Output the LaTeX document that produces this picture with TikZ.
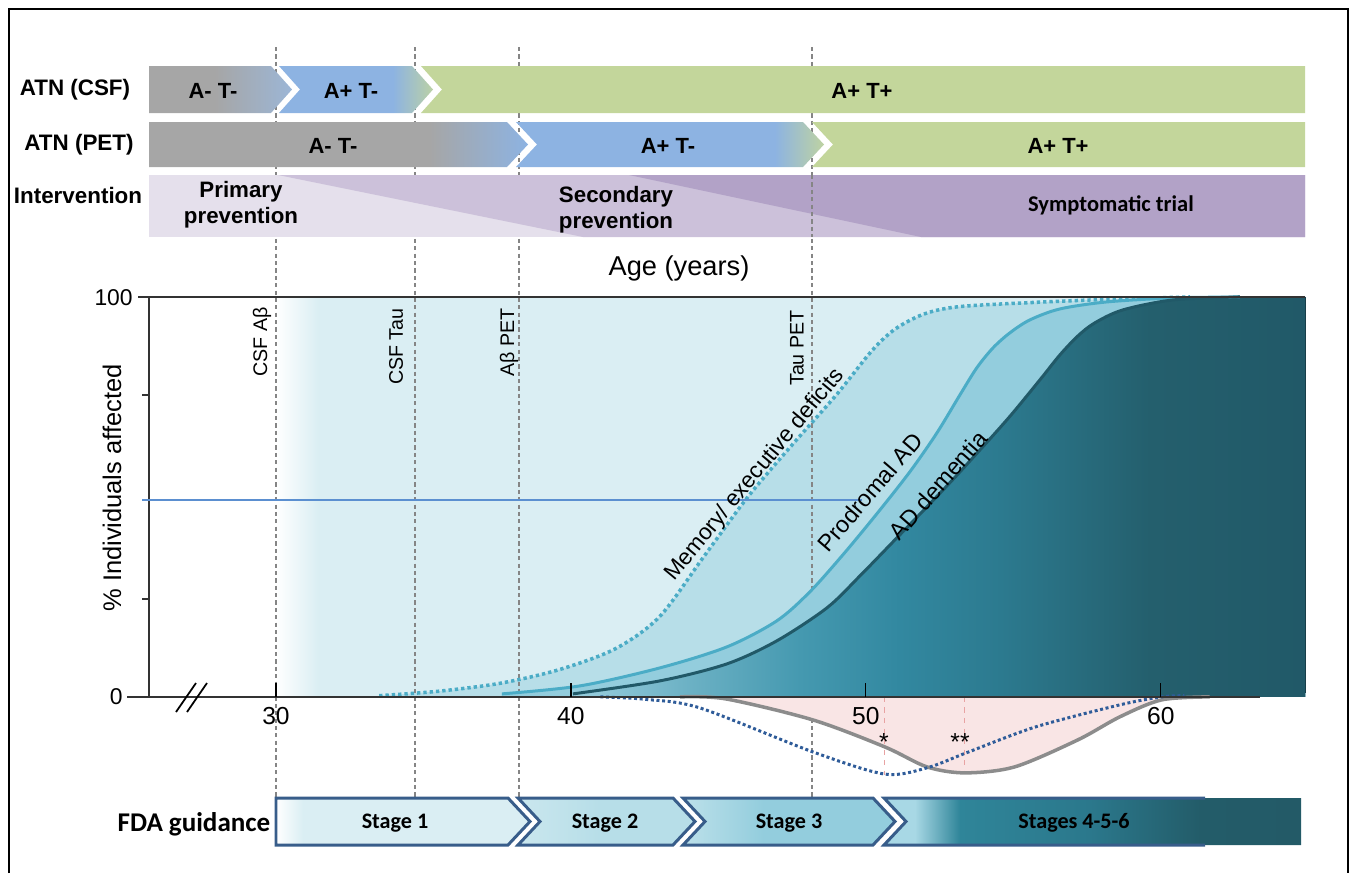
\documentclass[tikz,border=0pt]{standalone}
\usepackage{fontspec}
\setmainfont{Liberation Sans}
\newfontfamily\calfont{Carlito}
\usetikzlibrary{math}

\definecolor{atngray}{HTML}{A6A6A6}
\definecolor{atnblue}{HTML}{8DB3E2}
\definecolor{atngreen}{HTML}{C3D69B}
\definecolor{atnfade}{HTML}{9CB6D6}
\definecolor{intlight}{HTML}{E5E0EC}
\definecolor{intmid}{HTML}{CCC1DA}
\definecolor{intdark}{HTML}{B2A2C7}
\definecolor{aquaA}{HTML}{DAEEF3}
\definecolor{aquaB}{HTML}{B7DEE8}
\definecolor{aquaC}{HTML}{93CDDD}
\definecolor{aqualine}{HTML}{4BACC6}
\definecolor{aquadeep}{HTML}{215968}
\definecolor{deepA}{HTML}{9ACFDE}
\definecolor{deepB}{HTML}{6FB3C6}
\definecolor{deepC}{HTML}{4599B0}
\definecolor{deepD}{HTML}{3288A0}
\definecolor{deepE}{HTML}{2C7A8F}
\definecolor{deepF}{HTML}{245F6D}
\definecolor{stageA}{HTML}{A8D8E5}
\definecolor{stageB}{HTML}{2F8599}
\definecolor{stageC}{HTML}{2B788C}
\definecolor{stageD}{HTML}{235C69}
\definecolor{stageE}{HTML}{235A67}
\definecolor{fdaline}{HTML}{385D8A}
\definecolor{pinkfill}{HTML}{F9E5E5}
\definecolor{dipgray}{HTML}{8C8C8C}
\definecolor{dipblue}{HTML}{2F5C99}
\definecolor{markgray}{HTML}{858585}
\definecolor{halfblue}{HTML}{5B8FD0}
\definecolor{starred}{HTML}{E8A3A3}

% fades (25bp = left edge of the path, 75bp = right edge)
\pgfdeclarehorizontalshading{csfgray}{100bp}{color(0bp)=(atngray); color(48bp)=(atngray); color(75bp)=(atnfade); color(100bp)=(atnfade)}
\pgfdeclarehorizontalshading{csfblue}{100bp}{color(0bp)=(atnblue); color(62bp)=(atnblue); color(75bp)=(atngreen!85!atnblue); color(100bp)=(atngreen!85!atnblue)}
\pgfdeclarehorizontalshading{petgray}{100bp}{color(0bp)=(atngray); color(62bp)=(atngray); color(75bp)=(atnblue); color(100bp)=(atnblue)}
\pgfdeclarehorizontalshading{petblue}{100bp}{color(0bp)=(atnblue); color(67bp)=(atnblue); color(75bp)=(atngreen!90!atnblue); color(100bp)=(atngreen!90!atnblue)}
\pgfdeclarehorizontalshading{stagetwo}{100bp}{color(0bp)=(aquaA!55!aquaB); color(25bp)=(aquaA!55!aquaB); color(48bp)=(aquaB); color(100bp)=(aquaB)}
\pgfdeclarehorizontalshading{stagethree}{100bp}{color(0bp)=(aquaB!85!aquaA); color(25bp)=(aquaB!85!aquaA); color(44bp)=(aquaC); color(100bp)=(aquaC)}
\pgfdeclarehorizontalshading{stagefour}{100bp}{color(0bp)=(stageA); color(28.7bp)=(stageA); color(34.1bp)=(stageB); color(49.7bp)=(stageC); color(62.9bp)=(stageD); color(75bp)=(stageE); color(100bp)=(stageE)}
\pgfdeclarehorizontalshading{addeep}{100bp}{color(0bp)=(deepA); color(25bp)=(deepA); color(32.3bp)=(deepB); color(40.5bp)=(deepC); color(47.3bp)=(deepD); color(54.2bp)=(deepE); color(64.4bp)=(deepF); color(75bp)=(aquadeep); color(100bp)=(aquadeep)}

\begin{document}
\begin{tikzpicture}[x=0.02cm, y=-0.02cm,
    ageframe/.style={shift={(-12.18cm,-13.94cm)}, x=0.59cm, y=0.08cm},
    rowlabel/.style={inner sep=0, font=\bfseries\fontsize{12.75}{15}\selectfont},
    bartext/.style={inner sep=0, font=\bfseries\fontsize{12.5}{15}\selectfont},
    phasetext/.style={inner sep=0, align=center, font=\bfseries\fontsize{12.7}{14.8}\selectfont},
    agemark/.style={draw=markgray, line width=0.7pt, dash pattern=on 2.4pt off 1.8pt},
    marklabel/.style={inner sep=0, rotate=90, anchor=east, font=\fontsize{11.2}{13}\selectfont},
    curvelabel/.style={inner sep=0, font=\fontsize{13.3}{15}\selectfont},
    axisline/.style={draw=black!80, line width=0.8pt},
    ticklabel/.style={inner sep=0, font=\fontsize{14}{16}\selectfont},
    stagebox/.style={draw=fdaline, line width=1.7pt, line join=miter},
    stagetext/.style={inner sep=0, font=\calfont\bfseries\fontsize{12.6}{15}\selectfont},
  ]
  \tikzmath{
    \plotL=149; \plotR=1305; \plotT=297; \plotB=697;
    \fdaT=798; \fdaB=845; \fdaM=821.5;
  }
  \useasboundingbox (0,0) rectangle (1355,873);

  % frame
  \draw[line width=1.1pt] (9,873) -- (9,9) -- (1348,9) -- (1348,873);

  % plot background and memory band
  \begin{scope}[ageframe]
    \fill[aquaA] (31.4,0) rectangle (64.9,100);
    \shade[left color=white, right color=aquaA] (30,0) rectangle (31.45,100);
    \fill[aquaB] (33.5,0) -- plot[smooth] coordinates {(33.5,0.3) (35.5,1.4) (37.6,3.4) (39.6,6.8) (41.5,12) (43,20) (44.5,35) (46,50) (47.5,63) (49,75.5) (50.2,86.5) (51,92) (52,95.8) (53.2,97.6) (55.9,98.7) (58.2,99.4) (61,100)} -- (64.9,100) -- (64.9,0) -- cycle;
  \end{scope}

  % biomarker ages
  \foreach \x in {276,415,519,812}
    \draw[agemark] (\x,47) -- (\x,\fdaT);

  % prodromal and dementia bands
  \begin{scope}[ageframe]
    \fill[aquaC] (37.66,0) -- plot[smooth] coordinates {(37.66,0.75) (40.31,2.75) (43.02,7.25) (45.29,12.5) (46.98,19) (48.1,26.25) (49.22,35.5) (50.37,45.75) (51.49,56.25) (52.41,66) (53.19,75.5) (53.76,82.25) (54.31,87.25) (54.88,91) (55.56,94.25) (56.58,97) (58.17,98.75) (60.41,99.75) (62.68,100)} -- (64.9,100) -- (64.9,0) -- cycle;
    \shade[shading=addeep] (40.07,0) -- plot[smooth] coordinates {(40.07,0.75) (43.02,4) (45.29,8.25) (46.98,14) (48.68,22.25) (49.8,30.25) (50.92,38.75) (52.07,47.5) (53.19,56.25) (54.78,69.25) (55.9,79.25) (56.58,85.5) (57.19,90.25) (57.76,93.5) (58.71,96.75) (60.41,99.25) (62.68,100)} -- (64.9,100) -- (64.9,0) -- cycle;
    \draw[aqualine, line width=2pt, dash pattern=on 1.9pt off 1.7pt] plot[smooth] coordinates {(33.5,0.3) (35.5,1.4) (37.6,3.4) (39.6,6.8) (41.5,12) (43,20) (44.5,35) (46,50) (47.5,63) (49,75.5) (50.2,86.5) (51,92) (52,95.8) (53.2,97.6) (55.9,98.7) (58.2,99.4) (61,100)};
    \draw[aqualine, line width=1.7pt] plot[smooth] coordinates {(37.66,0.75) (40.31,2.75) (43.02,7.25) (45.29,12.5) (46.98,19) (48.1,26.25) (49.22,35.5) (50.37,45.75) (51.49,56.25) (52.41,66) (53.19,75.5) (53.76,82.25) (54.31,87.25) (54.88,91) (55.56,94.25) (56.58,97) (58.17,98.75) (60.41,99.75) (62.68,100)};
    \draw[aquadeep, line width=1.7pt] plot[smooth] coordinates {(40.07,0.75) (43.02,4) (45.29,8.25) (46.98,14) (48.68,22.25) (49.8,30.25) (50.92,38.75) (52.07,47.5) (53.19,56.25) (54.78,69.25) (55.9,79.25) (56.58,85.5) (57.19,90.25) (57.76,93.5) (58.71,96.75) (60.41,99.25) (62.68,100)};
  \end{scope}
  \draw[aquadeep!70!black, line width=0.4pt] (\plotR,\plotT) -- (\plotR,693);

  % difference below the axis
  \begin{scope}[ageframe]
    \fill[pinkfill] plot[smooth] coordinates {(43.7,0) (45.25,-0.5) (48.2,-5.75) (50.64,-12.5) (52.07,-17.5) (53.36,-19) (55.05,-17.5) (57.19,-10.75) (58.61,-5) (60.03,-0.75) (61.66,0)} -- cycle;
    \draw[starred, line width=0.6pt, dashed] (50.64,0) -- (50.64,-19.5);
    \draw[starred, line width=0.6pt, dashed] (53.36,0) -- (53.36,-19);
    \draw[dipgray, line width=2pt] plot[smooth] coordinates {(43.7,0) (45.25,-0.5) (48.2,-5.75) (50.64,-12.5) (52.07,-17.5) (53.36,-19) (55.05,-17.5) (57.19,-10.75) (58.61,-5) (60.03,-0.75) (61.66,0)};
    \draw[dipblue, line width=1.7pt, dash pattern=on 1.7pt off 1.5pt] plot[smooth] coordinates {(41,0) (42.5,-0.6) (44.37,-2.75) (48.2,-13.75) (50.64,-19.3) (52.07,-17.75) (53.49,-13.75) (55.76,-7.5) (58.61,-2) (60.03,0) (60.8,0.3)};
  \end{scope}
  \node[inner sep=0, font=\fontsize{14}{16}\selectfont] (star1) at (884,742) {*};
  \node[inner sep=0, font=\fontsize{14}{16}\selectfont] (star2) at (960,742) {**};

  % axes
  \draw[axisline] (138,\plotT) -- (\plotR,\plotT);
  \draw[axisline] (\plotL,\plotT) -- (\plotL,\plotB);
  \draw[axisline] (127,\plotB) -- (1260,\plotB);
  \foreach \y in {395,599}
    \draw[axisline] (142,\y) -- (\plotL,\y);
  \draw[halfblue, line width=0.75pt] (142,500) -- (862,500);
  \draw[line width=1pt] (176,712) -- (196,683) (187,712) -- (207,683);
  \begin{scope}[ageframe]
    \foreach \a in {30,40,50,60}{%
        \draw[black, line width=0.7pt] (\a,0) -- (\a,3.5);
        \node[ticklabel] (age\a) at (\a,-4.9) {\a};
      }
  \end{scope}
  \node[inner sep=0, anchor=east, font=\fontsize{13}{15}\selectfont] (ytop) at (133,298) {100};
  \node[inner sep=0, anchor=east, font=\fontsize{13}{15}\selectfont] (ybottom) at (123,697) {0};
  \node[rotate=90, inner sep=0, font=\fontsize{14.5}{17}\selectfont] (yname) at (112,488) {\% Individuals affected};
  \node[inner sep=0, font=\fontsize{15.5}{18}\selectfont] (xname) at (679,268) {Age (years)};

  % biomarker labels
  \node[marklabel] (csfab) at (262,307) {CSF Aβ};
  \node[marklabel] (csftau) at (396,308) {CSF Tau};
  \node[marklabel] (petab) at (509,308) {Aβ PET};
  \node[marklabel] (pettau) at (797,310) {Tau PET};

  % curve labels
  \node[curvelabel, rotate=50.4, font=\fontsize{12.9}{15}\selectfont] (memlabel) at (755,475) {Memory/ executive deficits};
  \node[curvelabel, rotate=49.4] (prolabel) at (870,492) {Prodromal AD};
  \node[curvelabel, rotate=48.9] (adlabel) at (938,485) {AD dementia};

  % ATN (CSF)
  \node[rowlabel] (csfname) at (75,90) {ATN (CSF)};
  \shade[shading=csfgray] (149,66) -- (271,66) -- (292,89.5) -- (271,113) -- (149,113) -- cycle;
  \shade[shading=csfblue] (279,66) -- (412,66) -- (433,89.5) -- (412,113) -- (279,113) -- (300,89.5) -- cycle;
  \fill[atngreen] (421,66) -- (\plotR,66) -- (\plotR,113) -- (421,113) -- (442,89.5) -- cycle;
  \node[bartext] (csfneg) at (213,90.5) {A- T-};
  \node[bartext] (csfamy) at (351,90.5) {A+ T-};
  \node[bartext] (csfpos) at (862,90.5) {A+ T+};

  % ATN (PET)
  \node[rowlabel] (petname) at (79,145) {ATN (PET)};
  \shade[shading=petgray] (149,122) -- (507,122) -- (528,144.5) -- (507,167) -- (149,167) -- cycle;
  \shade[shading=petblue] (516,122) -- (803,122) -- (824,144.5) -- (803,167) -- (516,167) -- (537,144.5) -- cycle;
  \fill[atngreen] (812,122) -- (\plotR,122) -- (\plotR,167) -- (812,167) -- (833,144.5) -- cycle;
  \node[bartext] (petneg) at (333,145.5) {A- T-};
  \node[bartext] (petamy) at (668,145.5) {A+ T-};
  \node[bartext] (petpos) at (1058,145.5) {A+ T+};

  % intervention
  \node[rowlabel] (intname) at (78,195) {Intervention};
  \fill[intlight] (\plotL,175) rectangle (\plotR,237);
  \fill[intmid] (278,175) -- (\plotR,175) -- (\plotR,237) -- (583,237) -- cycle;
  \fill[intdark] (629,175) -- (\plotR,175) -- (\plotR,237) -- (921,237) -- cycle;
  \draw[agemark] (812,175) -- (812,237);
  \node[phasetext] (primary) at (241,205) {Primary\\prevention};
  \node[phasetext] (secondary) at (616,209.5) {Secondary\\prevention};
  \node[inner sep=0, font=\calfont\bfseries\fontsize{12.8}{15}\selectfont] (symptomatic) at (1111,205) {Symptomatic trial};

  % FDA guidance
  \node[inner sep=0, font=\calfont\bfseries\fontsize{15.4}{18}\selectfont] (fdaname) at (194,824) {FDA guidance};
  \fill[aquaA] (276,\fdaT) -- (508,\fdaT) -- (530,\fdaM) -- (508,\fdaB) -- (276,\fdaB) -- cycle;
  \shade[left color=white, right color=aquaA] (276,\fdaT) rectangle (303,\fdaB);
  \draw[stagebox] (276,\fdaT) -- (508,\fdaT) -- (530,\fdaM) -- (508,\fdaB) -- (276,\fdaB) -- cycle;
  \shadedraw[shading=stagetwo, stagebox] (518,\fdaT) -- (673,\fdaT) -- (695,\fdaM) -- (673,\fdaB) -- (518,\fdaB) -- (540,\fdaM) -- cycle;
  \shadedraw[shading=stagethree, stagebox] (683,\fdaT) -- (873,\fdaT) -- (895,\fdaM) -- (873,\fdaB) -- (683,\fdaB) -- (705,\fdaM) -- cycle;
  \shade[shading=stagefour] (884,\fdaT) -- (1301,\fdaT) -- (1301,\fdaB) -- (884,\fdaB) -- (906,\fdaM) -- cycle;
  \draw[stagebox] (1205,\fdaT) -- (884,\fdaT) -- (906,\fdaM) -- (884,\fdaB) -- (1205,\fdaB);
  \node[stagetext] (stage1) at (395,823) {Stage 1};
  \node[stagetext] (stage2) at (605,823) {Stage 2};
  \node[stagetext] (stage3) at (789,823) {Stage 3};
  \node[stagetext] (stage4) at (1074,823) {Stages 4-5-6};
\end{tikzpicture}
\end{document}
